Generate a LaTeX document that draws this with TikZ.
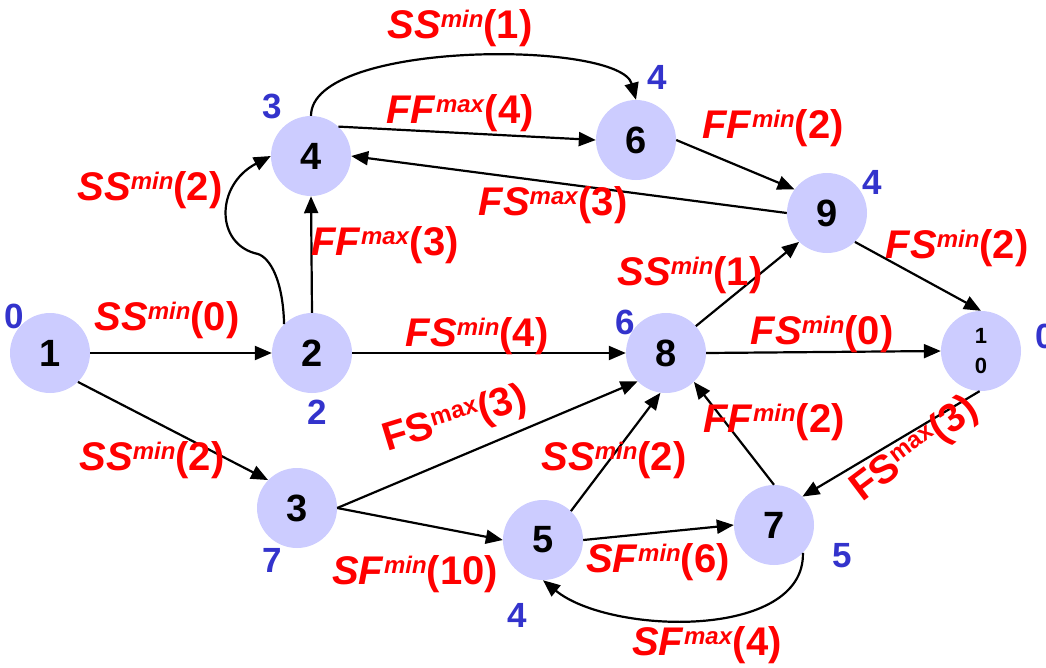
\documentclass[tikz,border=0pt]{standalone}
\usepackage{fontspec}
\setmainfont{Liberation Sans}
\usetikzlibrary{arrows.meta}
\definecolor{nodefill}{HTML}{CCCCFF}
\definecolor{numblue}{HTML}{3333CC}
\newcommand{\elab}[3]{\textit{#1}\raisebox{11pt}{\fontsize{24}{24}\selectfont\textit{#2}}(#3)}
\newcommand{\elabu}[3]{#1\raisebox{11pt}{\fontsize{24}{24}\selectfont #2}(#3)}
\begin{document}
\begin{tikzpicture}[x=1pt,y=-1pt,
 vtx/.style={circle, fill=nodefill, minimum size=80pt, inner sep=0pt, font=\fontsize{38}{38}\selectfont\bfseries},
 num/.style={text=numblue, font=\fontsize{35}{35}\selectfont\bfseries, inner sep=0pt},
 elabel/.style={text=red, font=\fontsize{40}{40}\selectfont\bfseries, inner sep=0pt},
 arr/.style={line width=2.2pt, -{Triangle[length=17pt,width=14pt]}}
]
\useasboundingbox (0,0) rectangle (1046,667);
% vertices
\node[vtx] (n1) at (50,353) {1};
\node[vtx] (n2) at (312,353) {2};
\node[vtx] (n3) at (297,508) {3};
\node[vtx] (n4) at (311,156) {4};
\node[vtx] (n5) at (543,540) {5};
\node[vtx] (n6) at (636,140) {6};
\node[vtx] (n7) at (774,525) {7};
\node[vtx] (n8) at (666,353) {8};
\node[vtx] (n9) at (827,213) {9};
\node[vtx, align=center, font=\fontsize{22}{30}\selectfont\bfseries] (n10) at (981,351) {1\\0};
% blue numbers
\node[num] (b1) at (14,316) {0};
\node[num] (b2) at (317,412) {2};
\node[num] (b4) at (272,106) {3};
\node[num] (b6) at (657,77) {4};
\node[num] (b9) at (872,182) {4};
\node[num] (b8) at (625,322) {6};
\node[num] (b10) at (1045,336) {0};
\node[num] (b3) at (272,560) {7};
\node[num] (b5) at (517,615) {4};
\node[num] (b7) at (842,556) {5};
% connectors
\draw[arr] (n1) -- (n2);
\draw[arr] (n1.-46) -- (n3.136);
\draw[arr] (n2.north) -- (n4.south);
\draw[arr] (n2.134) .. controls (283,280) and (270,258) .. (258,254) .. controls (215,245) and (215,185) .. (n4.west);
\draw[arr] (n2.east) -- (n8.west);
\draw[arr] (n3.east) -- (n8.-135);
\draw[arr] (n3.east) -- (n5.west);
\draw[arr] (n4.47) -- (n6.west);
\draw[arr] (n4.north) .. controls (311,40) and (620,40) .. (n6.north);
\draw[arr] (n9.west) -- (n4.east);
\draw[arr] (n6.east) -- (n9.144);
\draw[arr] (n8.42) -- (n9.-134);
\draw[arr] (n9.-46) -- (n10.north);
\draw[arr] (n8.east) -- (n10.west);
\draw[arr] (n5.46) -- (n8.-98);
\draw[arr] (n5.east) -- (n7.west);
\draw[arr] (n7.north) -- (n8.-46);
\draw[arr] (n10.-92) -- (n7.45);
\draw[arr] (n7.-44) .. controls (805,640) and (610,635) .. (n5.south);
% edge labels
\node[elabel] (l12) at (167,320) {\elab{SS}{min}{0}};
\node[elabel] (l24c) at (150,190) {\elab{SS}{min}{2}};
\node[elabel] (l24) at (385,245) {\elab{FF}{max}{3}};
\node[elabel] (l46c) at (460,28) {\elab{SS}{min}{1}};
\node[elabel] (l46) at (460,113) {\elab{FF}{max}{4}};
\node[elabel] (l69) at (773,128) {\elab{FF}{min}{2}};
\node[elabel] (l94) at (553,205) {\elab{FS}{max}{3}};
\node[elabel] (l910) at (957,248) {\elab{FS}{min}{2}};
\node[elabel] (l89) at (690,275) {\elab{SS}{min}{1}};
\node[elabel] (l28) at (477,336) {\elab{FS}{min}{4}};
\node[elabel] (l810) at (822,334) {\elab{FS}{min}{0}};
\node[elabel] (l13) at (152,460) {\elab{SS}{min}{2}};
\node[elabel, rotate=17] (l38) at (455,420) {\elabu{FS}{max}{3}};
\node[elabel] (l58) at (614,460) {\elab{SS}{min}{2}};
\node[elabel] (l78) at (774,422) {\elab{FF}{min}{2}};
\node[elabel, rotate=37] (l107) at (915,450) {\elabu{FS}{max}{3}};
\node[elabel] (l35) at (415,574) {\elab{SF}{min}{10}};
\node[elabel] (l57) at (658,562) {\elab{SF}{min}{6}};
\node[elabel] (l75) at (707,645) {\elab{SF}{max}{4}};
\end{tikzpicture}
\end{document}
